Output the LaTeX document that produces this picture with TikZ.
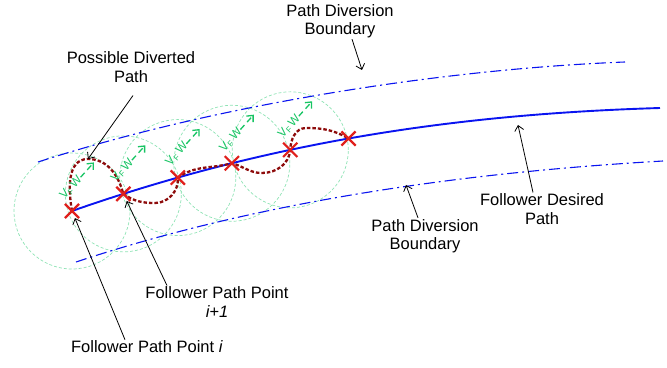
\documentclass[tikz,border=0pt]{standalone}
\usepackage{fontspec}
\setmainfont{Liberation Sans}
\usepackage{tikz}
\usetikzlibrary{arrows.meta,shapes.misc}
\definecolor{pathblue}{HTML}{0A14F0}
\definecolor{divred}{HTML}{8E0C0C}
\definecolor{markred}{HTML}{E0201C}
\definecolor{ringgreen}{HTML}{8FE3B5}
\definecolor{velgreen}{HTML}{17C463}
\tikzset{
  fpath/.style ={draw=pathblue, line width=1.9pt},
  bound/.style ={draw=pathblue, line width=1.1pt, dash pattern=on 11pt off 4pt on 2pt off 4pt},
  ring/.style  ={draw=ringgreen, line width=0.7pt, dash pattern=on 3pt off 2pt},
  dvrt/.style  ={draw=divred, line width=2.3pt, dash pattern=on 3.5pt off 2pt},
  vel/.style   ={draw=velgreen, line width=1.3pt, dash pattern=on 6pt off 4pt,
                 -{Straight Barb[length=5pt,width=9pt]}},
  vlab/.style  ={text=velgreen, font=\fontsize{12}{13}\selectfont, inner sep=0.5pt},
  mk/.style    ={cross out, draw=markred, line width=2.2pt, minimum size=12pt, inner sep=0pt},
  call/.style  ={draw=black, line width=0.8pt, -{Straight Barb[length=5pt,width=9pt]}},
  lbl/.style   ={align=center, font=\fontsize{16.5}{18.5}\selectfont, inner sep=1pt},
}

\begin{document}
\begin{tikzpicture}[x=1pt,y=1pt]
  \useasboundingbox (0,0) rectangle (667,367);

  % ---------------- follower points on the desired path ----------------------
  \path (72,156) .. controls (272,226) and (460,253) .. (660,259)
     coordinate[pos=0]     (p1) coordinate[pos=0.086] (p2) coordinate[pos=0.178] (p3)
     coordinate[pos=0.27]  (p4) coordinate[pos=0.37]  (p5) coordinate[pos=0.47]  (p6);

  % reachable region round each point
  \foreach \i in {1,...,5} \draw[ring] (p\i) circle[radius=58pt];

  % ---------------- boundaries and desired path ------------------------------
  \draw[bound] (38,205) .. controls (218,263) and (445,298) .. (625,305);
  \draw[bound] (76,105) .. controls (266,168) and (473,195) .. (663,206);
  \draw[fpath] (p1) .. controls (272,226) and (460,253) .. (660,259);

  % ---------------- diverted path --------------------------------------------
  \draw[dvrt] (p1) to[out=100,in=180] (88,208) coordinate (pk) to[out=0,in=105] (p2)
     to[out=-35,in=180] (155,164) to[out=0,in=-85] (p3)
     to[out=35,in=195] (p4) to[out=-15,in=180] (262,194) to[out=0,in=-95] (p5)
     to[out=88,in=180] (306,239) to[out=0,in=150] (p6);

  % velocity at each point
  \foreach \i in {1,...,5} {
    \node[vlab, rotate=48, anchor=south west] (v\i) at ([shift={(-6,9)}]p\i) {V\textsubscript{F}\,W};
    \draw[vel] (v\i.east) -- ++(48:20);
  }

  \foreach \i in {1,...,6} \node[mk] (m\i) at (p\i) {};

  % ---------------- labels ---------------------------------------------------
  \node[lbl] (pdp)  at (131,300) {Possible Diverted\\Path};
  \node[lbl] (tdiv) at (340,346) {Path Diversion\\Boundary};
  \node[lbl] (fdp)  at (542,158) {Follower Desired\\Path};
  \node[lbl] (bdiv) at (425,131) {Path Diversion\\Boundary};
  \node[lbl] (fpp1) at (217,65)  {Follower Path Point\\\textit{i+1}};
  \node[lbl] (fpp0) at (147,20)  {Follower Path Point \textit{i}};

  \coordinate (ubt) at (362,297);
  \coordinate (fdt) at (518,242);
  \coordinate (lbt) at (406,182);

  \draw[call] ([shift={(2,-12)}]pdp.south) -- (pk);
  \draw[call] ([xshift=12pt]tdiv.south) -- (ubt);
  \draw[call] ([xshift=-9pt]fdp.north) -- (fdt);
  \draw[call] ([xshift=-7pt]bdiv.north) -- (lbt);
  \draw[call] ([xshift=-50pt]fpp1.north) -- (m2);
  \draw[call] ([xshift=-22pt]fpp0.north) -- (m1);
\end{tikzpicture}
\end{document}
